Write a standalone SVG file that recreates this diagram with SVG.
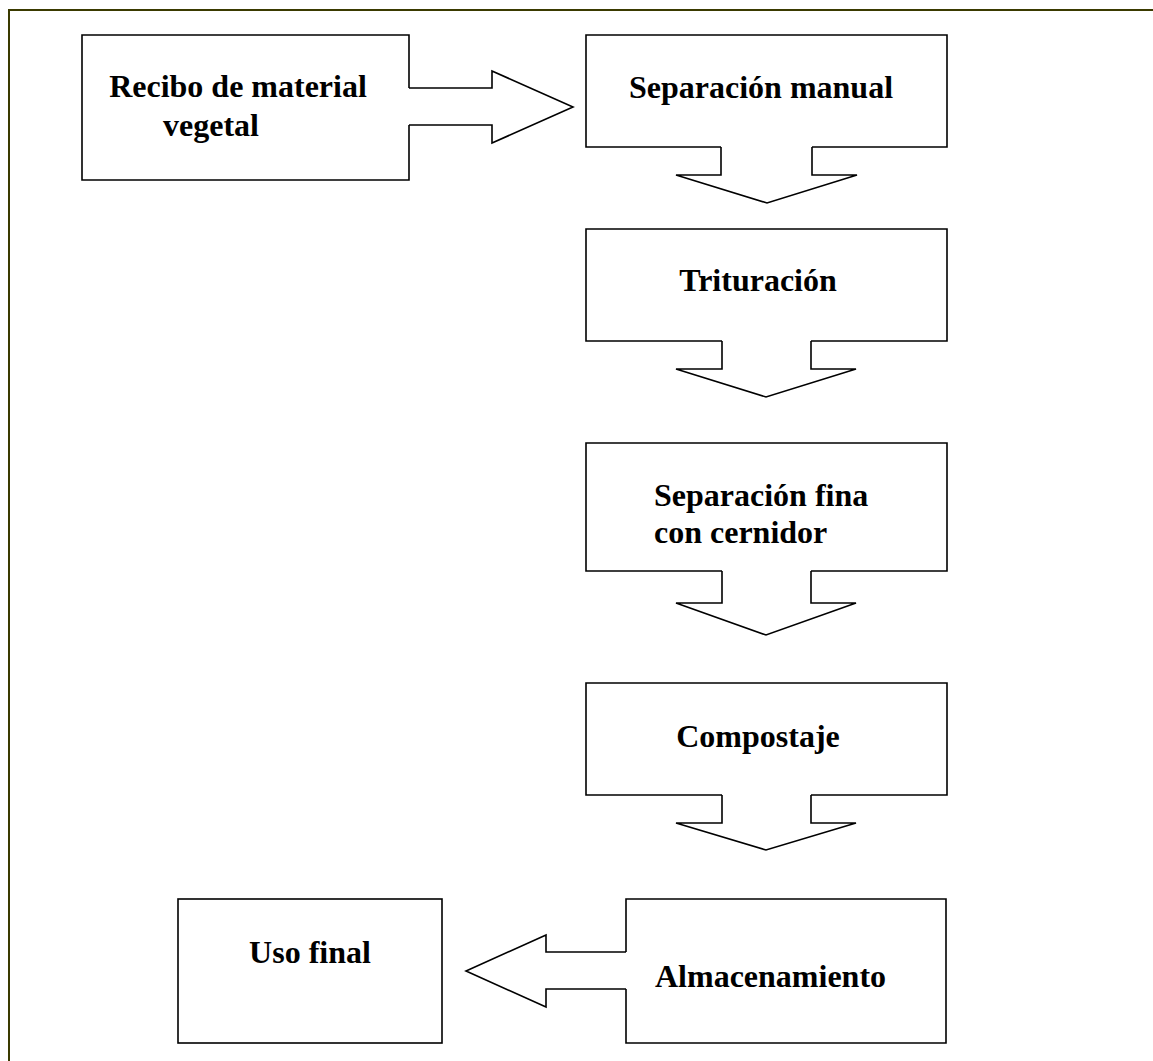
<svg xmlns="http://www.w3.org/2000/svg" width="1153" height="1061" viewBox="0 0 1153 1061">
<style>
.frame{fill:none;stroke:#3a3a00;stroke-width:2}
.shape{fill:none;stroke:#000;stroke-width:1.6;stroke-linejoin:miter}
.lbl{font-family:"Liberation Serif","Times New Roman",serif;font-weight:bold;font-size:32px;fill:#000}
.mid{text-anchor:middle}
</style>
<rect x="0" y="0" width="1153" height="1061" fill="#fff"/>
<path class="frame" d="M9,1061 V10 H1153"/>
<g id="connectors">
  <path class="shape" d="M409,88 H492 V71 L573,107 L492,143 V125 H409"/>
  <path class="shape" d="M721,147 V175 H676 L767,203 L857,175 H812 V147"/>
  <path class="shape" d="M722,341 V369 H676 L766,397 L856,369 H811 V341"/>
  <path class="shape" d="M722,571 V603 H676 L766,635 L856,603 H811 V571"/>
  <path class="shape" d="M722,795 V823 H676 L766,850 L856,823 H811 V795"/>
  <path class="shape" d="M626,952 H546 V935 L466,971 L546,1007 V989 H626"/>
</g>
<g id="recibo">
  <path class="shape" d="M409,88 V35 H82 V180 H409 V125"/>
  <text class="lbl mid" x="238" y="97">Recibo de material</text>
  <text class="lbl mid" x="211" y="136">vegetal</text>
</g>
<g id="separacion-manual">
  <path class="shape" d="M721,147 H586 V35 H947 V147 H812"/>
  <text class="lbl mid" x="761" y="98">Separación manual</text>
</g>
<g id="trituracion">
  <path class="shape" d="M722,341 H586 V229 H947 V341 H811"/>
  <text class="lbl mid" x="758" y="291">Trituración</text>
</g>
<g id="separacion-fina">
  <path class="shape" d="M722,571 H586 V443 H947 V571 H811"/>
  <text class="lbl" x="654" y="506">Separación fina</text>
  <text class="lbl" x="654" y="543">con cernidor</text>
</g>
<g id="compostaje">
  <path class="shape" d="M722,795 H586 V683 H947 V795 H811"/>
  <text class="lbl mid" x="758" y="747">Compostaje</text>
</g>
<g id="almacenamiento">
  <path class="shape" d="M626,952 V899 H946 V1043 H626 V989"/>
  <text class="lbl" x="655" y="987">Almacenamiento</text>
</g>
<g id="uso-final">
  <rect class="shape" x="178" y="899" width="264" height="144"/>
  <text class="lbl mid" x="310" y="963">Uso final</text>
</g>
</svg>
